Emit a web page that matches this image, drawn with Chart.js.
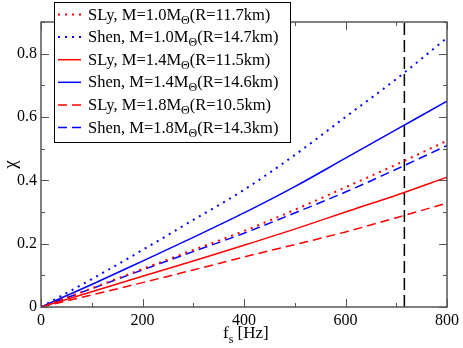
<!DOCTYPE html>
<html lang="en">
<head>
<meta charset="UTF-8">
<title>chi vs spin frequency</title>
<script src="https://cdn.jsdelivr.net/npm/chart.js"></script>
<style>
    body { margin: 0; background: #fff; }
    #wrap { position: relative; width: 463px; height: 348px; }
</style>
</head>
<body>
<div id="wrap"><canvas id="chiChart" width="463" height="348"></canvas></div>
<script>
// spin frequency grid (Hz) and chi
const freqs    = [0, 100, 200, 300, 400, 500, 600, 700, 800];
const slyM10   = [0, 0.059, 0.120, 0.180, 0.240, 0.307, 0.378, 0.450, 0.525];
const shenM10  = [0, 0.088, 0.180, 0.275, 0.370, 0.480, 0.600, 0.720, 0.850];
const slyM14   = [0, 0.048, 0.097, 0.145, 0.195, 0.246, 0.300, 0.353, 0.410];
const shenM14  = [0, 0.071, 0.145, 0.220, 0.297, 0.380, 0.470, 0.560, 0.650];
const slyM18   = [0, 0.038, 0.077, 0.117, 0.158, 0.197, 0.237, 0.282, 0.328];
const shenM18  = [0, 0.058, 0.117, 0.175, 0.233, 0.297, 0.363, 0.435, 0.510];

const eosNames = ['SLy', 'Shen', 'SLy', 'Shen', 'SLy', 'Shen'];
const masses   = ['1.0', '1.0', '1.4', '1.4', '1.8', '1.8'];
const radii    = ['11.7', '14.7', '11.5', '14.6', '10.5', '14.3'];

const xTicks = [0, 200, 400, 600, 800];
const yTicks = [0, 0.2, 0.4, 0.6, 0.8];
const markFreq = 716;

const serif = '"Liberation Serif", Tinos, "Times New Roman", Times, "Nimbus Roman", FreeSerif, "Noto Serif", "DejaVu Serif", serif';
const RED = '#ff0000', BLUE = '#0000ff';

function pts(ys) { return freqs.map((f, i) => ({ x: f, y: ys[i] })); }

const series = [
    { ys: slyM10,  color: RED,  dash: [2, 5], w: 2 },
    { ys: shenM10, color: BLUE, dash: [2, 5], w: 2 },
    { ys: slyM14,  color: RED,  dash: [],     w: 1.5 },
    { ys: shenM14, color: BLUE, dash: [],     w: 1.5 },
    { ys: slyM18,  color: RED,  dash: [9, 5], w: 1.5 },
    { ys: shenM18, color: BLUE, dash: [9, 5], w: 1.5 }
];

const datasets = series.map((s, i) => ({
    label: eosNames[i] + ', M=' + masses[i] + 'MΘ(R=' + radii[i] + 'km)',
    data: pts(s.ys),
    borderColor: s.color,
    borderWidth: s.w,
    borderDash: s.dash,
    pointRadius: 0,
    cubicInterpolationMode: 'monotone',
    fill: false
}));
datasets.push({
    label: 'marker',
    data: [{ x: markFreq, y: 0 }, { x: markFreq, y: 0.9 }],
    borderColor: '#000',
    borderWidth: 1.5,
    borderDash: [12, 5],
    pointRadius: 0
});

// frame, inward ticks (major + minor on all sides), x title, legend
const framePlugin = {
    id: 'frame',
    afterDraw(chart) {
        const ctx = chart.ctx, a = chart.chartArea;
        const xs = chart.scales.x, ys = chart.scales.y;
        ctx.save();
        ctx.strokeStyle = '#555';
        ctx.lineWidth = 1.5;
        ctx.setLineDash([]);
        ctx.strokeRect(a.left, a.top, a.right - a.left, a.bottom - a.top);
        ctx.lineWidth = 1;
        ctx.beginPath();
        for (let v = 0; v <= 800; v += 100) {
            const px = Math.round(xs.getPixelForValue(v)) + 0.5;
            const len = v % 200 === 0 ? 8 : 4;
            ctx.moveTo(px, a.bottom); ctx.lineTo(px, a.bottom - len);
            ctx.moveTo(px, a.top); ctx.lineTo(px, a.top + len);
        }
        for (let k = 0; k <= 9; k++) {
            const py = Math.round(ys.getPixelForValue(k / 10)) + 0.5;
            const len = k % 2 === 0 ? 8 : 4;
            ctx.moveTo(a.left, py); ctx.lineTo(a.left + len, py);
            ctx.moveTo(a.right, py); ctx.lineTo(a.right - len, py);
        }
        ctx.stroke();

        // x axis title f_s [Hz]
        ctx.fillStyle = '#000';
        ctx.textBaseline = 'alphabetic';
        ctx.font = '17px ' + serif;
        let x = 223;
        ctx.fillText('f', x, 338);
        x += ctx.measureText('f').width;
        ctx.font = '12px ' + serif;
        ctx.fillText('s', x, 343);
        x += ctx.measureText('s').width;
        ctx.font = '17px ' + serif;
        ctx.fillText(' [Hz]', x, 338);

        // legend box
        ctx.fillStyle = '#fff';
        ctx.fillRect(54, 2, 237, 141);
        ctx.strokeStyle = '#000';
        ctx.lineWidth = 1;
        ctx.strokeRect(54.5, 2.5, 236, 140);
        series.forEach((s, i) => {
            const cy = 13.5 + i * 22.6;
            ctx.strokeStyle = s.color;
            ctx.lineWidth = s.w;
            ctx.setLineDash(s.dash);
            ctx.beginPath();
            ctx.moveTo(58, cy + 1); ctx.lineTo(81, cy + 1);
            ctx.stroke();
            ctx.setLineDash([]);
            ctx.fillStyle = '#000';
            const base = cy + 6;
            let tx = 88;
            ctx.font = '16.5px ' + serif;
            const head = eosNames[i] + ', M=' + masses[i] + 'M';
            ctx.fillText(head, tx, base);
            tx += ctx.measureText(head).width;
            ctx.font = '12px ' + serif;
            ctx.fillText('Θ', tx, base + 4);
            tx += ctx.measureText('Θ').width;
            ctx.font = '16.5px ' + serif;
            ctx.fillText('(R=' + radii[i] + 'km)', tx, base);
        });
        ctx.restore();
    }
};

new Chart(document.getElementById('chiChart').getContext('2d'), {
    type: 'line',
    data: { datasets: datasets },
    plugins: [framePlugin],
    options: {
        responsive: false,
        devicePixelRatio: 1,
        animation: false,
        layout: { padding: { top: 22, right: 13, left: 0, bottom: 0 } },
        plugins: { legend: { display: false }, tooltip: { enabled: false } },
        scales: {
            x: {
                type: 'linear', min: 0, max: 800,
                afterFit: s => { s.height = 41; },
                afterBuildTicks: s => { s.ticks = xTicks.map(v => ({ value: v })); },
                grid: { display: false, drawTicks: false },
                border: { display: false },
                ticks: { color: '#000', padding: 4, maxRotation: 0,
                         font: { family: serif, size: 16 },
                         callback: v => String(v) }
            },
            y: {
                type: 'linear', min: 0, max: 0.9,
                afterFit: s => { s.width = 41; },
                afterBuildTicks: s => { s.ticks = yTicks.map(v => ({ value: v })); },
                grid: { display: false, drawTicks: false },
                border: { display: false },
                ticks: { color: '#000', padding: 4,
                         font: { family: serif, size: 16 },
                         callback: v => String(Math.round(v * 10) / 10) },
                title: { display: true, text: 'χ', color: '#000',
                         font: { family: serif, size: 19 }, padding: 0 }
            }
        }
    }
});
</script>
</body>
</html>
